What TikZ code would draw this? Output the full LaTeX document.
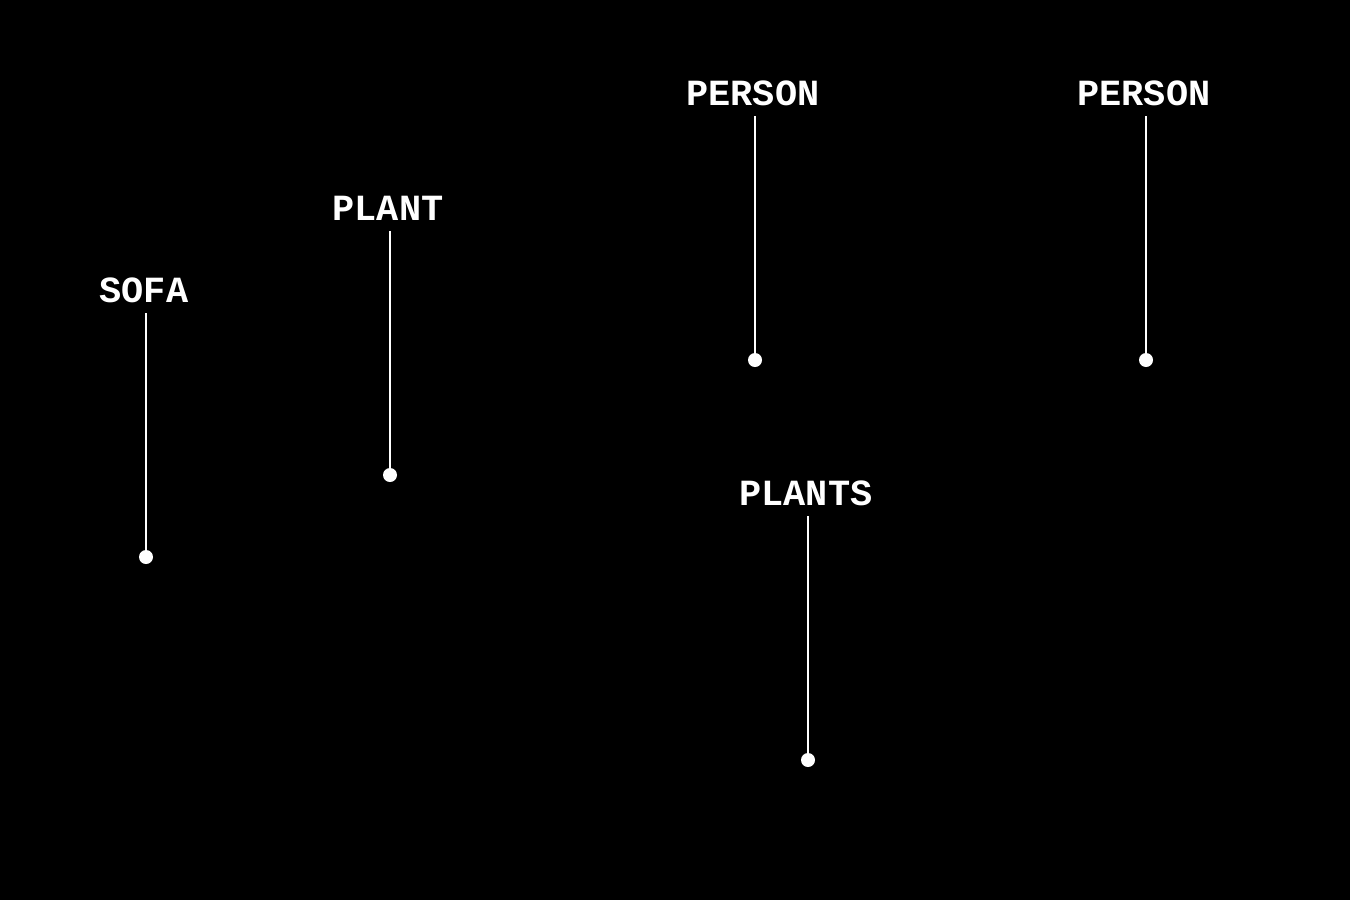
\documentclass[tikz,border=0pt]{standalone}
\usepackage{fontspec}
\newfontfamily\tagfont{Liberation Mono}
\usepackage{tikz}
\usetikzlibrary{arrows.meta,positioning,calc}
\definecolor{tagInk}{HTML}{FFFFFF}
\definecolor{tagBack}{HTML}{000000}
\tikzset{
  tag/.style={text=tagInk, font=\tagfont\bfseries\fontsize{21}{23}\selectfont, anchor=base, inner xsep=0pt, inner ysep=6pt},
  lead/.style={draw=tagInk, line width=1.1pt},
  pin/.style={fill=tagInk, draw=none}
}

\begin{document}
\begin{tikzpicture}[x=0.02cm,y=-0.02cm]
  \fill[tagBack] (0,0) rectangle (1350,900);
  \useasboundingbox (0,0) rectangle (1350,900);
  \node[tag] (sofa) at (144,302) {SOFA};
  \node[tag] (plant) at (388,220) {PLANT};
  \node[tag] (personA) at (753,105) {PERSON};
  \node[tag] (personB) at (1144,105) {PERSON};
  \node[tag] (plants) at (806,505) {PLANTS};
  \coordinate (sofadot) at (146,557);
  \coordinate (plantdot) at (390,475);
  \coordinate (personAdot) at (755,360);
  \coordinate (personBdot) at (1146,360);
  \coordinate (plantsdot) at (808,760);
  \foreach \n in {sofa,plant,personA,personB,plants}{
    \draw[lead] (\n.south -| \n dot) -- (\n dot);
    \fill[pin] (\n dot) circle (7);
  }
\end{tikzpicture}
\end{document}
